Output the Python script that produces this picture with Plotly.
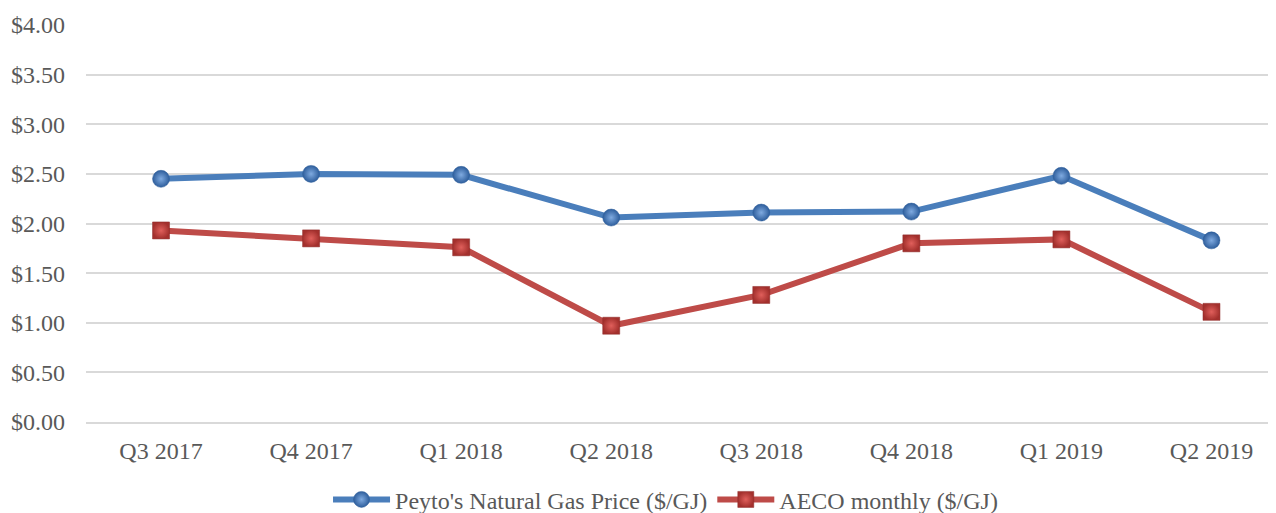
import plotly.graph_objects as go

quarters = ["Q3 2017", "Q4 2017", "Q1 2018", "Q2 2018", "Q3 2018", "Q4 2018", "Q1 2019", "Q2 2019"]
peyto = [2.45, 2.50, 2.49, 2.06, 2.11, 2.12, 2.48, 1.83]
aeco = [1.93, 1.85, 1.76, 0.97, 1.28, 1.80, 1.84, 1.11]
y_ticks = [0, 0.5, 1.0, 1.5, 2.0, 2.5, 3.0, 3.5, 4.0]
y_labels = ["$%.2f" % v for v in y_ticks]

blue = "#4A7EBB"
red = "#BE4B48"
font = "Liberation Serif, Times New Roman, serif"

fig = go.Figure()
fig.add_trace(go.Scatter(
    x=quarters, y=peyto, mode="lines+markers", name="Peyto's Natural Gas Price ($/GJ)",
    line=dict(color=blue, width=6),
    marker=dict(symbol="circle", size=17, color="#2E5E9C",
                gradient=dict(type="radial", color="#7FAAE0"),
                line=dict(color="#2F5F9A", width=0.5)),
))
fig.add_trace(go.Scatter(
    x=quarters, y=aeco, mode="lines+markers", name="AECO monthly ($/GJ)",
    line=dict(color=red, width=6),
    marker=dict(symbol="square", size=17, color="#A3302D",
                gradient=dict(type="radial", color="#E05F5B"),
                line=dict(color="#8E2A28", width=0.5)),
))

fig.update_layout(
    width=1268, height=505,
    margin=dict(l=78, r=0, t=17, b=91, autoexpand=False),
    paper_bgcolor="white", plot_bgcolor="white",
    font=dict(family=font, size=24, color="#595959"),
    showlegend=True,
    legend=dict(orientation="h", x=0.487, xanchor="center", y=-0.196, yanchor="middle",
                font=dict(family=font, size=24, color="#595959"), itemwidth=57),
    xaxis=dict(
        type="category", range=[-0.5, 7.43], showgrid=False,
        showline=True, linecolor="#D9D9D9", linewidth=2,
        ticks="", ticklabelstandoff=6,
        tickfont=dict(family=font, size=24, color="#595959"),
    ),
    yaxis=dict(
        range=[0, 4.0], tickvals=y_ticks, ticktext=y_labels,
        showgrid=True, gridcolor="#D9D9D9", gridwidth=1.5,
        zeroline=False, showline=False, ticks="", ticklabelstandoff=20,
        tickfont=dict(family=font, size=24, color="#595959"),
    ),
)

fig.write_html("out.html")
